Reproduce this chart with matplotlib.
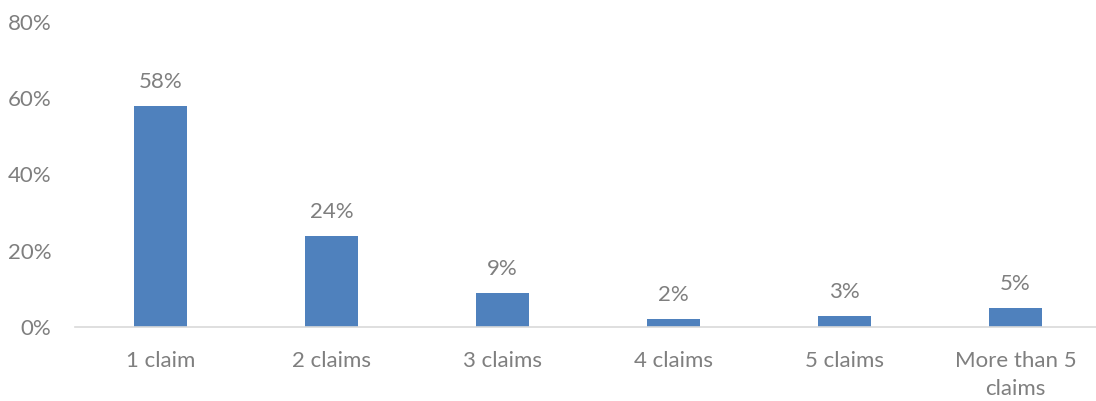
import matplotlib.pyplot as plt
from matplotlib.ticker import FuncFormatter

categories = ['1 claim', '2 claims', '3 claims', '4 claims', '5 claims', 'More than 5\nclaims']
shares = [0.58, 0.24, 0.09, 0.02, 0.03, 0.05]
labels = ['58%', '24%', '9%', '2%', '3%', '5%']

plt.rcParams['font.family'] = ['Lato', 'DejaVu Sans']
text_color = '#7F7F7F'

fig = plt.figure(figsize=(10.96, 4.01), dpi=100)
ax = fig.add_axes([75 / 1096, 74 / 401, 1026 / 1096, 305 / 401])

x = range(len(categories))
ax.bar(x, shares, width=0.31, color='#4F81BD', zorder=2)

# value labels above each bar
for i, (v, lab) in enumerate(zip(shares, labels)):
    ax.annotate(lab, (i, v), xytext=(0, 10), textcoords='offset points',
                ha='center', va='bottom', fontsize=16, color=text_color)

ax.set_xlim(-0.5, 5.5)
ax.set_ylim(0, 0.8)
ax.set_yticks([0, 0.2, 0.4, 0.6, 0.8])
ax.yaxis.set_major_formatter(FuncFormatter(lambda v, p: f'{v:.0%}'))
ax.set_xticks(list(x))
ax.set_xticklabels(categories, linespacing=1.5)

ax.tick_params(axis='both', length=0, labelsize=16, colors=text_color)
ax.tick_params(axis='x', pad=17)
ax.tick_params(axis='y', pad=17)
for s in ['top', 'right', 'left']:
    ax.spines[s].set_visible(False)
ax.spines['bottom'].set_color('#D9D9D9')
ax.spines['bottom'].set_linewidth(1.2)

fig.savefig('out.png', dpi=100)
